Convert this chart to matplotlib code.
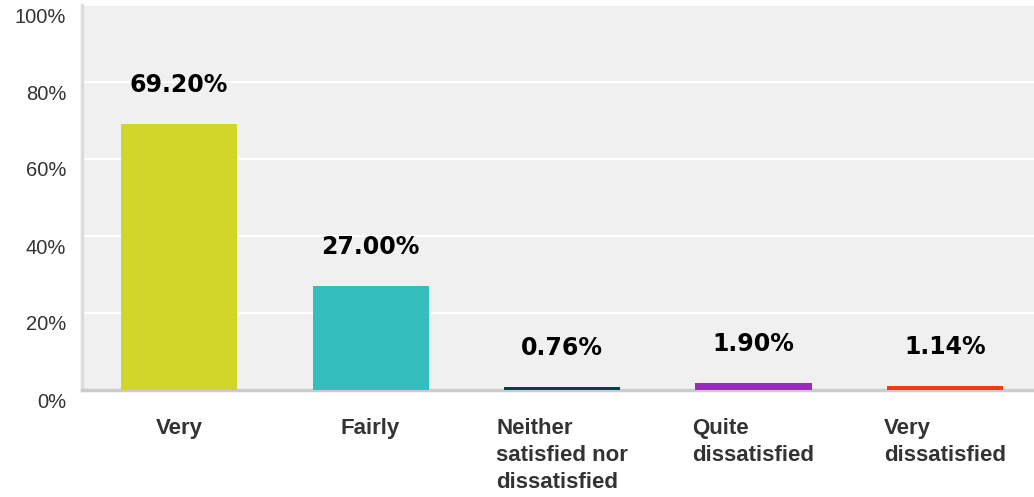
import matplotlib.pyplot as plt
from matplotlib.transforms import ScaledTranslation

# data
categories = ['Very', 'Fairly', 'Neither\nsatisfied nor\ndissatisfied',
              'Quite\ndissatisfied', 'Very\ndissatisfied']
values = [69.20, 27.00, 0.76, 1.90, 1.14]
colors = ['#d0d527', '#34bebe', '#063f4f', '#9b2bbb', '#f53a12']
yticks = [0, 20, 40, 60, 80, 100]

plt.rcParams['font.family'] = ['Liberation Sans', 'DejaVu Sans']

fig = plt.figure(figsize=(10.34, 4.97), dpi=100)
ax = fig.add_axes([82 / 1034, 107 / 497, 952 / 1034, 385 / 497])
ax.set_facecolor('#f0f0f0')

x = range(len(categories))
ax.bar(x, values, width=0.606, color=colors, zorder=3)

ax.set_xlim(-0.507, 4.465)
ax.set_ylim(0, 100)
ax.set_yticks(yticks)
ax.set_yticklabels([f'{v}%' for v in yticks], fontsize=14.5, color='#333333')
ax.yaxis.grid(True, color='white', linewidth=1.5, zorder=0)
ax.tick_params(axis='y', length=0, pad=11.5)
# y labels sit a little below their gridline in the original
for lab in ax.get_yticklabels():
    lab.set_transform(lab.get_transform() + ScaledTranslation(0, -10 / 100, fig.dpi_scale_trans))

ax.set_xticks(list(x))
ax.set_xticklabels(categories, fontsize=16, fontweight='bold', color='#333333',
                   multialignment='left', linespacing=1.38, va='top')
ax.tick_params(axis='x', length=0, pad=20)

for s in ['top', 'right']:
    ax.spines[s].set_visible(False)
ax.spines['left'].set_color('#dddddd')
ax.spines['left'].set_linewidth(2.5)
ax.spines['bottom'].set_color('#cccccc')
ax.spines['bottom'].set_linewidth(2.5)

for i, v in enumerate(values):
    ax.annotate(f'{v:.2f}%', (i, v), xytext=(0, 39), textcoords='offset pixels',
                ha='center', va='center', fontsize=17, fontweight='bold',
                color='black', family='DejaVu Sans')

fig.savefig('out.png', dpi=100)
